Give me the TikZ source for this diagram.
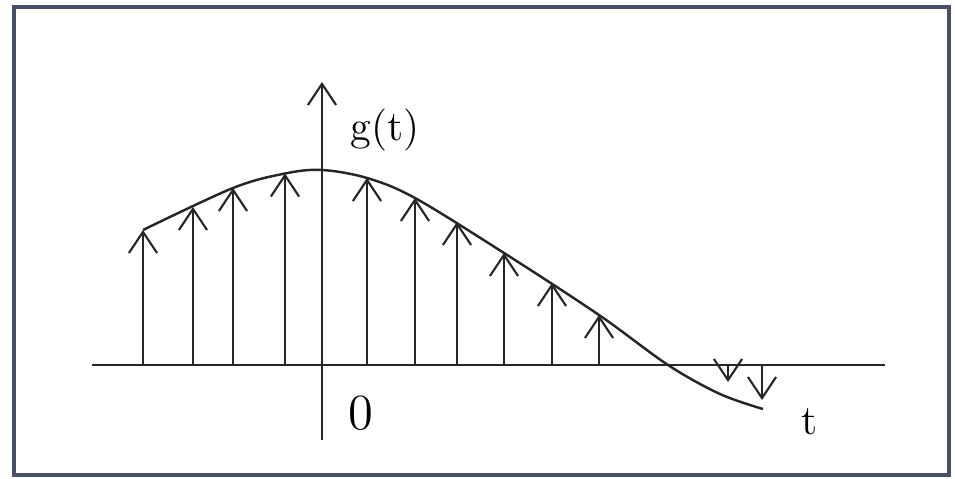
\documentclass[tikz,border=0pt]{standalone}
\usetikzlibrary{arrows.meta}
\definecolor{marco}{RGB}{72,80,104}
\begin{document}
\begin{tikzpicture}[x=0.5cm, y=0.5cm,
    impulso/.style={line width=0.6pt, black!85,
        -{Straight Barb[length=6pt, width=8pt, line width=0.6pt]}}]
    \useasboundingbox (-6.44,-2.28) rectangle (12.66,7.3);

    % Marco
    \draw[line width=1.2pt, marco] (-6.16,-2.2) rectangle (12.54,7.16);

    % Ejes
    \draw[line width=0.8pt, black!85] (-4.6,0) -- (11.26,0);
    \draw[impulso, line width=0.7pt] (0,-1.5) -- (0,5.66);

    % Envolvente g(t)
    \draw[line width=0.7pt, black!85]
        plot[smooth, tension=0.55] coordinates {(-3.58,2.70)
        (-1.78,3.54) (-0.74,3.83) (0,3.90) (0.90,3.74) (1.86,3.34)
        (3.64,2.24) (5.54,1.00) (6.92,0) (7.96,-0.58) (8.82,-0.88)};

    % Muestras
    \foreach \xv/\yv in {-3.58/2.70, -2.58/3.16, -1.78/3.54, -0.74/3.83,
                         0.90/3.74, 1.86/3.34, 2.70/2.86, 3.64/2.24,
                         4.60/1.64, 5.54/1.00, 8.12/-0.34, 8.80/-0.70}
        \draw[impulso] (\xv,0) -- (\xv,\yv);

    % Etiquetas
    \node (gt) at (1.26,4.7) {\large g(t)};
    \node (cero) at (0.78,-0.96) {\Large 0};
    \node (t) at (9.76,-1.14) {\large t};
\end{tikzpicture}
\end{document}
